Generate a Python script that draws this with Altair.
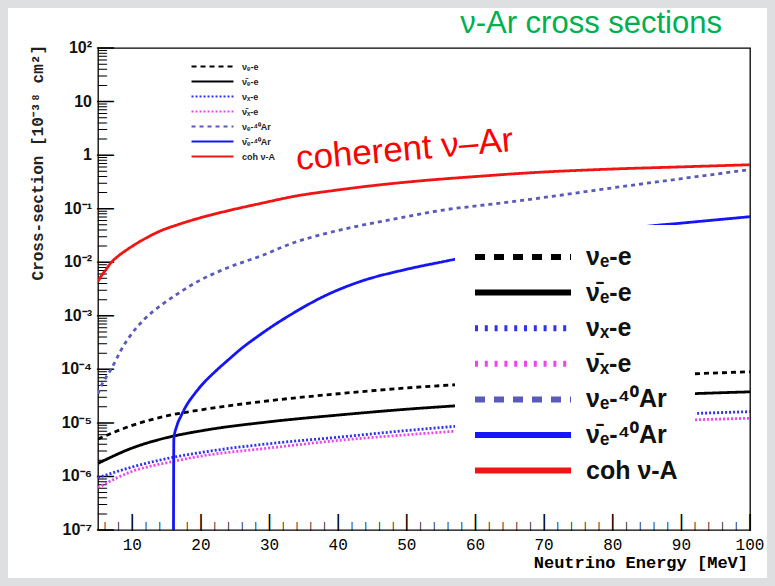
import altair as alt
import pandas as pd

# ---------------- data ----------------
series_labels = ["νₑ-e", "ν̄ₑ-e", "νₓ-e", "ν̄ₓ-e", "νₑ-⁴⁰Ar", "ν̄ₑ-⁴⁰Ar", "coh ν-A"]
series_colors = ["#000000", "#000000", "#3030f0", "#ee44ee", "#5a5ab8", "#1515f5", "#f01515"]

energy_e = [5, 10, 15, 20, 30, 40, 50, 60, 70, 80, 90, 100]
nue_e = [5.0e-6, 9.0e-6, 1.35e-5, 1.75e-5, 2.6e-5, 3.5e-5, 4.5e-5, 5.4e-5, 6.3e-5, 7.2e-5, 8.1e-5, 9.0e-5]
nuebar_e = [1.75e-6, 3.4e-6, 5.3e-6, 7.1e-6, 1.05e-5, 1.4e-5, 1.8e-5, 2.2e-5, 2.65e-5, 3.05e-5, 3.45e-5, 3.8e-5]
nux_e = [9.5e-7, 1.5e-6, 2.15e-6, 2.8e-6, 4.1e-6, 5.4e-6, 7.2e-6, 9.2e-6, 1.1e-5, 1.3e-5, 1.47e-5, 1.62e-5]
nuxbar_e = [6.2e-7, 1.25e-6, 1.8e-6, 2.4e-6, 3.4e-6, 4.7e-6, 6.0e-6, 7.4e-6, 8.7e-6, 1.0e-5, 1.12e-5, 1.22e-5]

energy_nue_ar = [5, 5.5, 6.2, 6.9, 7.6, 8.4, 9.3, 10.5, 11.7, 14.2, 16.6, 19.1, 23.9, 28.8,
                 33.6, 38, 42.7, 50, 55, 62, 70, 80, 90, 100]
nue_ar = [3.5e-5, 5.0e-5, 7.2e-5, 1.0e-4, 1.48e-4, 2.34e-4, 3.6e-4, 5.75e-4, 8.5e-4, 1.58e-3,
          2.57e-3, 4.07e-3, 7.9e-3, 1.32e-2, 2.34e-2, 3.39e-2, 4.68e-2, 7.1e-2, 9.3e-2, 0.12,
          0.162, 0.245, 0.363, 0.537]

energy_nuebar_ar = [16.0, 16.05, 16.5, 17.1, 18, 19, 20, 22, 24, 26, 28, 30, 33.6, 38, 43, 50,
                    56, 60, 65, 70, 75, 80, 85, 90, 95, 100]
nuebar_ar = [1e-7, 5.0e-6, 8.9e-6, 1.35e-5, 2.24e-5, 3.39e-5, 4.9e-5, 8.9e-5, 1.51e-4, 2.51e-4,
             3.89e-4, 5.89e-4, 1.15e-3, 2.34e-3, 4.27e-3, 7.4e-3, 1.07e-2, 1.38e-2, 1.82e-2,
             2.4e-2, 3.02e-2, 3.8e-2, 4.68e-2, 5.37e-2, 6.17e-2, 7.08e-2]

energy_coh = [5, 5.5, 6.2, 6.9, 8, 9.3, 10.5, 11.7, 14.2, 16.6, 19.1, 23.9, 28.8, 33.6, 40, 45,
              52, 60, 68, 80, 90, 100]
coh = [4.4e-3, 5.6e-3, 7.4e-3, 9.8e-3, 1.32e-2, 1.74e-2, 2.19e-2, 2.69e-2, 3.89e-2, 5.01e-2,
       6.31e-2, 9.12e-2, 0.126, 0.170, 0.224, 0.269, 0.331, 0.398, 0.468, 0.55, 0.603, 0.661]

x_major = [10, 20, 30, 40, 50, 60, 70, 80, 90, 100]
x_tick_text = ["10", "20", "30", "40", "50", "60", "70", "80", "90", "100"]
x_minor = [6, 8, 12, 14, 16, 18, 22, 24, 26, 28, 32, 34, 36, 38, 42, 44, 46, 48, 52, 54, 56, 58,
           62, 64, 66, 68, 72, 74, 76, 78, 82, 84, 86, 88, 92, 94, 96, 98]
y_major = [1e-7, 1e-6, 1e-5, 1e-4, 1e-3, 1e-2, 1e-1, 1, 10, 100]
y_tick_text = ["10⁻⁷", "10⁻⁶", "10⁻⁵", "10⁻⁴", "10⁻³", "10⁻²", "10⁻¹", "1", "10", "10²"]
y_minor = [m * d for d in [1e-7, 1e-6, 1e-5, 1e-4, 1e-3, 1e-2, 1e-1, 1, 10] for m in range(2, 10)]

title_text = "ν-Ar cross sections"
note_text = "coherent ν–Ar"
x_title = "Neutrino Energy [MeV]"
y_title = "Cross-section [10⁻³⁸ cm²]"

# ---------------- table ----------------
rows = []
for lab, es, vs in [
    (series_labels[0], energy_e, nue_e),
    (series_labels[1], energy_e, nuebar_e),
    (series_labels[2], energy_e, nux_e),
    (series_labels[3], energy_e, nuxbar_e),
    (series_labels[4], energy_nue_ar, nue_ar),
    (series_labels[5], energy_nuebar_ar, nuebar_ar),
    (series_labels[6], energy_coh, coh),
]:
    for e, v in zip(es, vs):
        rows.append({"series": lab, "series_b": lab, "E": e, "xs": v})
df = pd.DataFrame(rows)

W, H = 652, 482
x_scale = alt.Scale(domain=[5, 100], nice=False, zero=False)
y_scale = alt.Scale(type="log", domain=[1e-7, 100], nice=False)
X = lambda f: alt.X(f, scale=x_scale, axis=None)
Y = lambda f: alt.Y(f, scale=y_scale, axis=None)

dash_main = [[5, 4], [1, 0], [2, 2], [2, 2], [4, 4], [1, 0], [1, 0]]
dash_big = [[10, 9], [1, 0], [3, 6.8], [3, 6.8], [10, 9], [1, 0], [1, 0]]

legend_small = dict(
    title=None, orient="none", legendX=92, legendY=12, symbolType="M-4,0H4", symbolSize=110,
    symbolStrokeWidth=2, symbolOffset=16, labelOffset=23, labelFont="Liberation Sans",
    labelFontSize=9, labelFontWeight="bold", labelColor="#222", rowPadding=3, padding=0,
    labelLimit=0,
)
legend_big = dict(
    title=None, orient="none", legendX=357, legendY=177, symbolType="M-4,0H4", symbolSize=576,
    symbolStrokeWidth=6, symbolOffset=36, labelOffset=48, labelFont="Liberation Sans",
    labelFontSize=25, labelFontWeight="bold", labelColor="#111", rowPadding=7.6, padding=17,
    fillColor="white", labelLimit=0,
)

# grey slide frame round the white page (stroke only, so it hides nothing)
frame = alt.Chart(pd.DataFrame({"p": [0]})).mark_rect(
    fill=None, stroke="#dedfe1", strokeWidth=8
).encode(x=alt.value(-94), x2=alt.value(673), y=alt.value(-44), y2=alt.value(534))

# inward ROOT-style tick marks, drawn as bar glyphs placed through the scales
bar = "|"
xt_major = alt.Chart(pd.DataFrame({"E": x_major, "t": [bar] * len(x_major)})).mark_text(
    align="center", baseline="middle", font="Liberation Sans", fontSize=19, color="black"
).encode(x=X("E:Q"), y=alt.value(H - 9), text="t:N")
xt_minor = alt.Chart(pd.DataFrame({"E": x_minor, "t": [bar] * len(x_minor)})).mark_text(
    align="center", baseline="middle", font="Liberation Sans", fontSize=9.5, color="black"
).encode(x=X("E:Q"), y=alt.value(H - 4.5), text="t:N")
yt_major = alt.Chart(pd.DataFrame({"xs": y_major, "t": [bar] * len(y_major)})).mark_text(
    align="center", baseline="middle", font="Liberation Sans", fontSize=19, color="black",
    angle=90
).encode(y=Y("xs:Q"), x=alt.value(9), text="t:N")
yt_minor = alt.Chart(pd.DataFrame({"xs": y_minor, "t": [bar] * len(y_minor)})).mark_text(
    align="center", baseline="middle", font="Liberation Sans", fontSize=9.5, color="black",
    angle=90
).encode(y=Y("xs:Q"), x=alt.value(4.5), text="t:N")

lines = alt.Chart(df).mark_line(strokeWidth=2.8, clip=True, interpolate="monotone").encode(
    x=X("E:Q"),
    y=Y("xs:Q"),
    color=alt.Color("series:N", scale=alt.Scale(domain=series_labels, range=series_colors),
                    legend=alt.Legend(**legend_small)),
    strokeDash=alt.StrokeDash("series:N", scale=alt.Scale(domain=series_labels, range=dash_main),
                              legend=alt.Legend(**legend_small)),
)

# tick labels placed through the scales
x_labels = alt.Chart(pd.DataFrame({"E": x_major, "t": x_tick_text})).mark_text(
    align="center", baseline="top", font="Liberation Mono", fontSize=16, color="black"
).encode(x=X("E:Q"), y=alt.value(H + 7), text="t:N")
y_labels = alt.Chart(pd.DataFrame({"xs": y_major, "t": y_tick_text})).mark_text(
    align="right", baseline="middle", font="Liberation Sans", fontSize=16, fontWeight="bold",
    color="#111"
).encode(y=Y("xs:Q"), x=alt.value(-6), text="t:N")

x_title_mark = alt.Chart(pd.DataFrame({"t": [x_title]})).mark_text(
    align="right", baseline="alphabetic", font="Liberation Mono", fontSize=17,
    fontWeight="bold", color="black"
).encode(x=alt.value(W - 2), y=alt.value(H + 38), text="t:N")
y_title_mark = alt.Chart(pd.DataFrame({"t": [y_title]})).mark_text(
    align="right", baseline="middle", font="Liberation Mono", fontSize=16,
    fontWeight="bold", color="#222", angle=270
).encode(x=alt.value(-60), y=alt.value(-3), text="t:N")

big_legend = alt.Chart(df).transform_filter("false").mark_line().encode(
    x=X("E:Q"),
    y=Y("xs:Q"),
    color=alt.Color("series_b:N", scale=alt.Scale(domain=series_labels, range=series_colors),
                    legend=alt.Legend(**legend_big)),
    strokeDash=alt.StrokeDash("series_b:N", scale=alt.Scale(domain=series_labels, range=dash_big),
                              legend=alt.Legend(**legend_big)),
)

title_mark = alt.Chart(pd.DataFrame({"t": [title_text]})).mark_text(
    align="right", baseline="alphabetic", font="Liberation Sans Narrow, Liberation Sans",
    fontSize=31, color="#00b050"
).encode(x=alt.value(624), y=alt.value(-15), text="t:N")

note_mark = alt.Chart(pd.DataFrame({"t": [note_text]})).mark_text(
    align="left", baseline="alphabetic", font="Liberation Sans", fontSize=35,
    color="#ff0000", angle=355
).encode(x=alt.value(199), y=alt.value(122), text="t:N")

chart = alt.layer(
    frame, xt_major, xt_minor, yt_major, yt_minor, lines, x_labels, y_labels,
    x_title_mark, y_title_mark, big_legend, title_mark, note_mark
).resolve_scale(
    color="independent", strokeDash="independent"
).properties(
    width=W, height=H, background="white",
    padding={"left": 0, "top": 0, "right": 0, "bottom": 0},
).configure_view(stroke="black", strokeWidth=1.3)

chart.save("out.html", embed_options={"renderer": "svg", "actions": False})
